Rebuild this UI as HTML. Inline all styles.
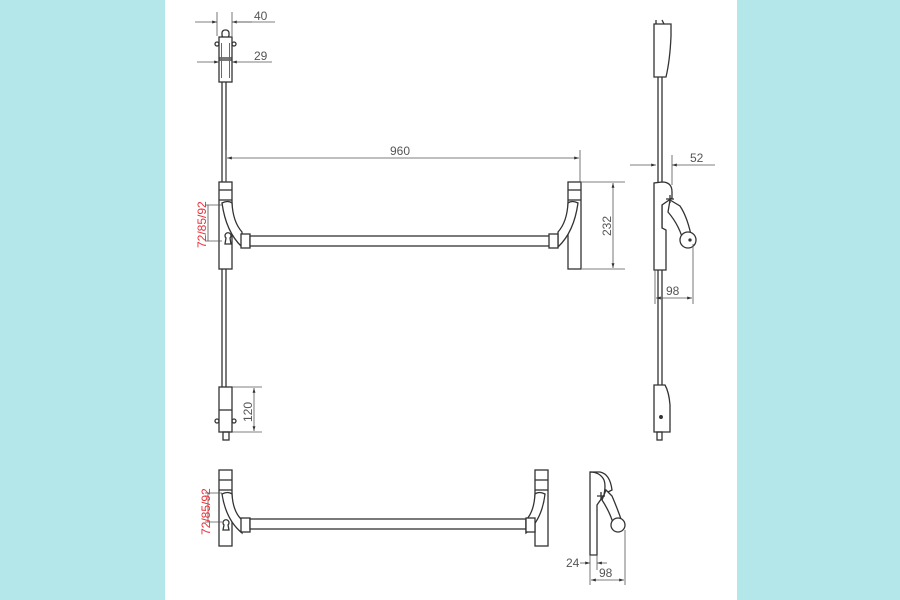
<!DOCTYPE html>
<html><head><meta charset="utf-8"><style>
html,body{margin:0;padding:0;width:900px;height:600px;overflow:hidden;background:#b3e7ea}
svg{display:block}
text{font-family:"Liberation Sans",sans-serif;font-size:12px;fill:#555}
.r{fill:#e8323a}
</style></head><body>
<svg width="900" height="600" viewBox="0 0 900 600">
<rect x="0" y="0" width="900" height="600" fill="#b3e7ea"/>
<rect x="165" y="0" width="572" height="600" fill="#fff"/>
<defs><marker id="a" viewBox="0 0 10 10" refX="10" refY="5" markerWidth="6" markerHeight="6" orient="auto-start-reverse"><path d="M0,2 L10,5 L0,8z" fill="#333"/></marker></defs>
<g fill="none" stroke="#333" stroke-width="1.3">
<!-- top latch left -->
<rect x="222" y="30" width="7" height="8" rx="3"/>
<rect x="219" y="37" width="13" height="45" fill="#fff"/>
<line x1="219" y1="58" x2="232" y2="58"/>
<line x1="219" y1="60" x2="232" y2="60"/>
<circle cx="217" cy="44" r="2"/><circle cx="234" cy="44" r="2"/>
<line x1="221.5" y1="43" x2="221.5" y2="78" stroke="#e8323a" stroke-width="1"/>
<line x1="229.5" y1="43" x2="229.5" y2="78" stroke="#e8323a" stroke-width="1"/>
<!-- rod -->
<line x1="222" y1="82" x2="222" y2="387"/><line x1="226" y1="82" x2="226" y2="387"/>
<!-- left housing -->
<rect x="219" y="182" width="13" height="87" fill="#fff"/>
<line x1="219" y1="190" x2="232" y2="190"/><line x1="219" y1="200" x2="232" y2="200"/>
<path d="M222,203 Q228,200 232,203 Q233,222 242,232 L242,247 Q226,232 222,203z" fill="#fff"/>
<rect x="241" y="234" width="9" height="14" fill="#fff"/>
<rect x="250" y="236" width="305" height="10" fill="#fff"/>
<path d="M226,238 a3,3 0 1,1 4,0 l1,6 h-6z" fill="#fff"/>
<!-- right housing -->
<rect x="568" y="182" width="13" height="87" fill="#fff"/>
<line x1="568" y1="190" x2="581" y2="190"/><line x1="568" y1="200" x2="581" y2="200"/>
<path d="M578,203 Q572,200 568,203 Q567,222 558,232 L558,247 Q574,232 578,203z" fill="#fff"/>
<rect x="549" y="234" width="9" height="14" fill="#fff"/>
<!-- bottom latch -->
<rect x="219" y="387" width="13" height="45" fill="#fff"/>
<line x1="219" y1="410" x2="232" y2="410"/>
<circle cx="217" cy="421" r="2"/><circle cx="234" cy="421" r="2"/>
<rect x="223" y="432" width="6" height="8"/>
<!-- side view -->
<path d="M654,24 L654,77 L666,77 Q670,60 671,36 L671,24 Z" fill="#fff"/>
<line x1="656" y1="20" x2="656" y2="24"/><line x1="662" y1="20" x2="664" y2="24"/>
<line x1="658" y1="77" x2="658" y2="385"/><line x1="662" y1="77" x2="662" y2="385"/>
<path d="M654,183 L654,270 L666,270 L666,230 L662,228 L662,205 L672,198 L672,192 Q672,182 662,182 Z" fill="#fff"/>
<path d="M670,200 L680,206 Q688,218 692,240 L684,244 Q680,226 668,212z" fill="#fff"/>
<circle cx="688" cy="240" r="8" fill="#fff"/>
<circle cx="690" cy="240" r="1" fill="#333"/>
<path d="M666,199 h8 M670,195 v8"/>
<path d="M654,385 L654,432 L670,432 L670,405 Q669,392 665,385 Z" fill="#fff"/>
<rect x="657" y="432" width="5" height="8"/>
<circle cx="661" cy="417" r="1.3" fill="#333"/>
<!-- bottom view -->
<rect x="219" y="470" width="13" height="76" fill="#fff"/>
<line x1="219" y1="480" x2="232" y2="480"/><line x1="219" y1="490" x2="232" y2="490"/>
<path d="M222,494 Q228,491 232,494 Q233,512 242,520 L242,533 Q226,520 222,494z" fill="#fff"/>
<rect x="241" y="518" width="9" height="14" fill="#fff"/>
<rect x="250" y="519" width="276" height="10" fill="#fff"/>
<rect x="535" y="470" width="13" height="76" fill="#fff"/>
<line x1="535" y1="480" x2="548" y2="480"/><line x1="535" y1="490" x2="548" y2="490"/>
<path d="M545,494 Q539,491 535,494 Q534,512 526,520 L526,533 Q542,520 545,494z" fill="#fff"/>
<rect x="526" y="518" width="9" height="14" fill="#fff"/>
<path d="M224,525 a3,3 0 1,1 4,0 l1,5 h-6z" fill="#fff"/>
<!-- small side -->
<path d="M590,472 L590,555 L597,555 L597,505 L604,495 Q606,485 604,480 Q600,472 590,472 Z" fill="#fff"/>
<path d="M590,472 L600,472 Q610,474 612,490 L608,492"/>
<path d="M606,490 L612,496 Q618,510 622,522 L614,526 Q610,512 602,500z" fill="#fff"/>
<circle cx="618" cy="525" r="7" fill="#fff"/>
<path d="M597,496 h8 M601,492 v8"/>
</g>
<!-- dimension lines -->
<g stroke="#555" stroke-width="0.8" fill="none">
<line x1="217" y1="12" x2="217" y2="36"/><line x1="232" y1="12" x2="232" y2="36"/>
<line x1="195" y1="22" x2="217" y2="22" marker-end="url(#a)"/><line x1="252" y1="22" x2="232" y2="22" marker-end="url(#a)"/>
<line x1="232" y1="22" x2="275" y2="22"/>
<line x1="197" y1="62" x2="219" y2="62" marker-end="url(#a)"/><line x1="272" y1="62" x2="232" y2="62" marker-end="url(#a)"/>
<line x1="226" y1="150" x2="226" y2="182"/><line x1="580" y1="150" x2="580" y2="182"/>
<line x1="227" y1="158" x2="579" y2="158" marker-start="url(#a)" marker-end="url(#a)"/>
<line x1="582" y1="182" x2="625" y2="182"/><line x1="582" y1="269" x2="625" y2="269"/>
<line x1="613" y1="183" x2="613" y2="268" marker-start="url(#a)" marker-end="url(#a)"/>
<line x1="205" y1="205" x2="222" y2="205"/><line x1="205" y1="241" x2="222" y2="241"/>
<line x1="208" y1="205" x2="208" y2="241"/>
<line x1="232" y1="387" x2="262" y2="387"/><line x1="232" y1="432" x2="262" y2="432"/>
<line x1="254" y1="388" x2="254" y2="431" marker-start="url(#a)" marker-end="url(#a)"/>
<line x1="672" y1="155" x2="672" y2="185"/>
<line x1="630" y1="165" x2="656" y2="165" marker-end="url(#a)"/><line x1="715" y1="165" x2="672" y2="165" marker-end="url(#a)"/>
<line x1="693" y1="244" x2="693" y2="304"/><line x1="655" y1="270" x2="655" y2="304"/>
<line x1="656" y1="298" x2="692" y2="298" marker-start="url(#a)" marker-end="url(#a)"/>
<line x1="205" y1="493" x2="222" y2="493"/><line x1="205" y1="522" x2="222" y2="522"/>
<line x1="208" y1="493" x2="208" y2="522"/>
<line x1="625" y1="530" x2="625" y2="585"/><line x1="590" y1="555" x2="590" y2="585"/>
<line x1="591" y1="580" x2="624" y2="580" marker-start="url(#a)" marker-end="url(#a)"/>
<line x1="580" y1="563" x2="590" y2="563" marker-end="url(#a)"/><line x1="607" y1="563" x2="597" y2="563" marker-end="url(#a)"/>
<line x1="597" y1="555" x2="597" y2="570"/>
</g>
<text x="254" y="20">40</text>
<text x="254" y="60">29</text>
<text x="390" y="155">960</text>
<text transform="translate(611,236) rotate(-90)">232</text>
<text transform="translate(252,422) rotate(-90)">120</text>
<text x="690" y="162">52</text>
<text x="666" y="295">98</text>
<text x="566" y="567">24</text>
<text x="599" y="577">98</text>
<text class="r" transform="translate(206,248) rotate(-90)">72/85/92</text>
<text class="r" transform="translate(210,535) rotate(-90)">72/85/92</text>
</svg>
</body></html>
